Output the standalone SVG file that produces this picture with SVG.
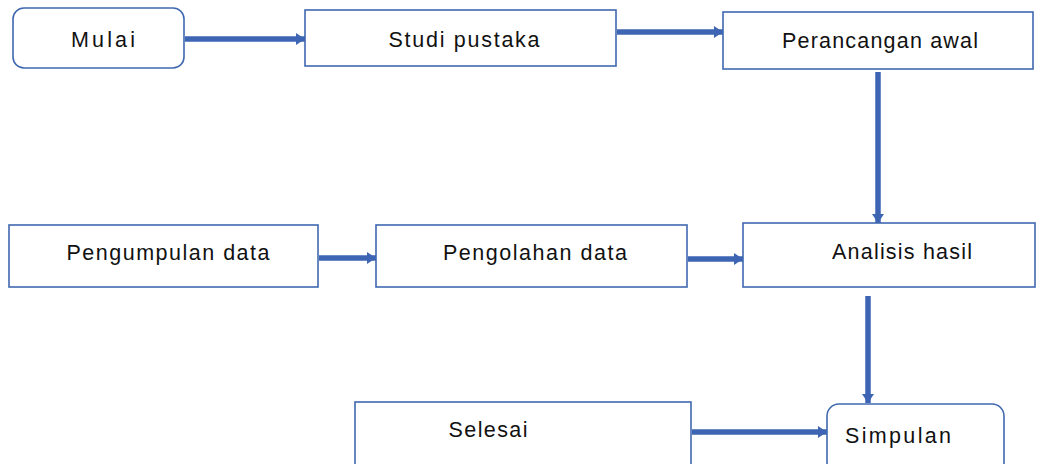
<svg xmlns="http://www.w3.org/2000/svg" width="1052" height="464" viewBox="0 0 1052 464">
<defs>
<style>
.box{fill:#fff;stroke:#3f68b0;stroke-width:1.6}
.lbl{font-family:"Liberation Sans","DejaVu Sans",sans-serif;font-size:21.5px;fill:#111;text-anchor:middle}
.conn{stroke:#3d65b3;stroke-width:5.5;fill:none}
</style>
<marker id="ah" markerUnits="userSpaceOnUse" markerWidth="10" markerHeight="12" refX="9" refY="6" orient="auto">
<path d="M0,0 L9,6 L0,12 Z" fill="#3d65b3"/>
</marker>
</defs>
<rect width="1052" height="464" fill="#fff"/>
<g id="connectors">
<line class="conn" x1="185" y1="39" x2="305" y2="39" marker-end="url(#ah)"/>
<line class="conn" x1="617" y1="32" x2="723" y2="32" marker-end="url(#ah)"/>
<line class="conn" x1="878" y1="72" x2="878" y2="223" marker-end="url(#ah)"/>
<line class="conn" x1="319" y1="258" x2="376" y2="258" marker-end="url(#ah)"/>
<line class="conn" x1="688" y1="259" x2="743" y2="259" marker-end="url(#ah)"/>
<line class="conn" x1="868" y1="296" x2="868" y2="403" marker-end="url(#ah)"/>
<line class="conn" x1="692" y1="432" x2="827" y2="432" marker-end="url(#ah)"/>
</g>
<g id="mulai">
<rect class="box" x="13" y="8" width="171" height="60" rx="11"/>
<text class="lbl" x="103" y="47" textLength="64" lengthAdjust="spacing">Mulai</text>
</g>
<g id="studi">
<rect class="box" x="305" y="10" width="311" height="56"/>
<text class="lbl" x="464" y="47" textLength="151" lengthAdjust="spacing">Studi pustaka</text>
</g>
<g id="perancangan">
<rect class="box" x="723" y="12" width="310" height="57"/>
<text class="lbl" x="880" y="48" textLength="196" lengthAdjust="spacing">Perancangan awal</text>
</g>
<g id="pengumpulan">
<rect class="box" x="9" y="225" width="309" height="62"/>
<text class="lbl" x="168" y="260" textLength="203" lengthAdjust="spacing">Pengumpulan data</text>
</g>
<g id="pengolahan">
<rect class="box" x="376" y="225" width="311" height="62"/>
<text class="lbl" x="535" y="260" textLength="184" lengthAdjust="spacing">Pengolahan data</text>
</g>
<g id="analisis">
<rect class="box" x="743" y="223" width="292" height="64"/>
<text class="lbl" x="902" y="259" textLength="140" lengthAdjust="spacing">Analisis hasil</text>
</g>
<g id="selesai">
<rect class="box" x="355" y="402" width="336" height="70"/>
<text class="lbl" x="488" y="437" textLength="79" lengthAdjust="spacing">Selesai</text>
</g>
<g id="simpulan">
<rect class="box" x="827" y="404" width="177" height="70" rx="12"/>
<text class="lbl" x="898" y="443" textLength="106" lengthAdjust="spacing">Simpulan</text>
</g>
</svg>
